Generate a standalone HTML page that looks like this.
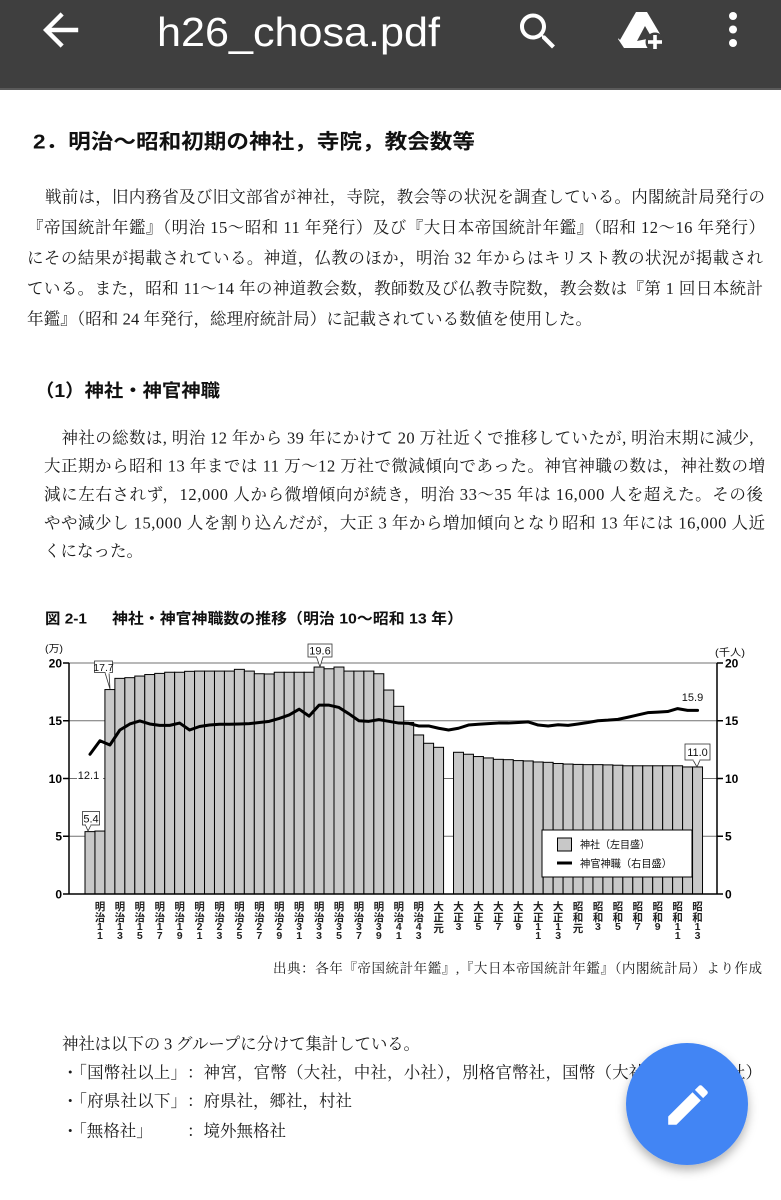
<!DOCTYPE html>
<html><head><meta charset="utf-8">
<style>
html,body{margin:0;padding:0;background:#fff;}
svg{display:block;}
.s{font-family:"Liberation Serif","Noto Serif CJK SC",serif;fill:#1a1a1a;}
.g{font-family:"Liberation Sans","Noto Sans CJK JP",sans-serif;}
.c{font-family:"Liberation Sans","Noto Sans CJK JP",sans-serif;font-size:10.5px;font-weight:bold;text-anchor:middle;fill:#222;}
.n{font-family:"Liberation Sans",sans-serif;font-size:11px;fill:#111;}
.ax{font-family:"Liberation Sans",sans-serif;font-size:12px;font-weight:bold;fill:#000;}
</style></head><body>
<svg width="781" height="1200" viewBox="0 0 781 1200" xmlns="http://www.w3.org/2000/svg">
<defs>
<filter id="sh" x="-30%" y="-30%" width="160%" height="170%"><feDropShadow dx="0" dy="5" stdDeviation="5" flood-color="#000" flood-opacity="0.3"/></filter>
</defs>
<rect width="781" height="1200" fill="#fff"/>

<!-- Header -->
<rect x="0" y="0" width="781" height="88" fill="#3f3f3f"/>
<rect x="0" y="88" width="781" height="2" fill="#5a5a5a"/>
<path transform="translate(34.2,3.6) scale(2.2)" fill="#fff" d="M20 11H7.83l5.59-5.59L12 4l-8 8 8 8 1.41-1.41L7.83 13H20v-2z"/>
<text class="g" x="157" y="46" font-size="41" fill="#fff" textLength="283" lengthAdjust="spacingAndGlyphs">h26_chosa.pdf</text>
<path transform="translate(514,7.5) scale(2.0)" fill="#fff" d="M15.5 14h-.79l-.28-.27C15.41 12.59 16 11.110 16 9.5 16 5.910 13.09 3 9.5 3S3 5.91 3 9.5 5.91 16 9.5 16c1.61 0 3.09-.59 4.23-1.57l.27.28v.79l5 4.99L20.49 19l-4.99-5zm-6 0C7.01 14 5 11.99 5 9.5S7.01 5 9.5 5 14 7.01 14 9.5 11.99 14 9.5 14z"/>
<!-- drive add icon -->
<polygon points="634,12 647,12 663,39 657,48 624,48 618,39" fill="#fff"/>
<polygon points="637,41 645,26 652,38" fill="#3f3f3f"/>
<polygon points="633,12 636,12 620,40 618,38" fill="#3f3f3f"/>
<circle cx="655" cy="42" r="9.5" fill="#3f3f3f"/>
<rect x="653.2" y="35" width="3.6" height="14" fill="#fff"/>
<rect x="648" y="40.2" width="14" height="3.6" fill="#fff"/>
<!-- kebab -->
<circle cx="733" cy="16" r="4" fill="#fff"/>
<circle cx="733" cy="29.5" r="4" fill="#fff"/>
<circle cx="733" cy="43" r="4" fill="#fff"/>

<!-- Section title -->
<text class="g" x="33" y="148.5" font-size="20.5" font-weight="bold" fill="#111" textLength="442" lengthAdjust="spacingAndGlyphs">2．明治〜昭和初期の神社，寺院，教会数等</text>

<!-- Paragraph 1 -->
<g class="s" font-size="16.5">
<text x="45" y="202.3" textLength="720" lengthAdjust="spacing">戦前は，旧内務省及び旧文部省が神社，寺院，教会等の状況を調査している。内閣統計局発行の</text>
<text x="27" y="232.8" textLength="738" lengthAdjust="spacing">『帝国統計年鑑』（明治 15〜昭和 11 年発行）及び『大日本帝国統計年鑑』（昭和 12〜16 年発行）</text>
<text x="27" y="263.3" textLength="736" lengthAdjust="spacing">にその結果が掲載されている。神道，仏教のほか，明治 32 年からはキリスト教の状況が掲載され</text>
<text x="27" y="293.8" textLength="736" lengthAdjust="spacing">ている。また，昭和 11〜14 年の神道教会数，教師数及び仏教寺院数，教会数は『第 1 回日本統計</text>
<text x="27" y="324.3" textLength="565" lengthAdjust="spacing">年鑑』（昭和 24 年発行，総理府統計局）に記載されている数値を使用した。</text>
</g>

<!-- Heading (1) -->
<text class="g" x="35" y="397" font-size="18" font-weight="bold" fill="#111" textLength="185" lengthAdjust="spacingAndGlyphs">（1）神社・神官神職</text>

<!-- Paragraph 2 -->
<g class="s" font-size="16.5">
<text x="61.5" y="443.3" textLength="692" lengthAdjust="spacing">神社の総数は, 明治 12 年から 39 年にかけて 20 万社近くで推移していたが, 明治末期に減少,</text>
<text x="44" y="471.6" textLength="721" lengthAdjust="spacing">大正期から昭和 13 年までは 11 万〜12 万社で微減傾向であった。神官神職の数は，神社数の増</text>
<text x="44" y="500" textLength="719" lengthAdjust="spacing">減に左右されず，12,000 人から微増傾向が続き，明治 33〜35 年は 16,000 人を超えた。その後</text>
<text x="44" y="528.3" textLength="721" lengthAdjust="spacing">やや減少し 15,000 人を割り込んだが，大正 3 年から増加傾向となり昭和 13 年には 16,000 人近</text>
<text x="44" y="556.6">くになった。</text>
</g>

<!-- Chart title -->
<text class="g" x="45" y="623.7" font-size="15" font-weight="bold" fill="#111" textLength="42" lengthAdjust="spacingAndGlyphs">図 2-1</text>
<text class="g" x="112" y="623.7" font-size="15" font-weight="bold" fill="#111" textLength="351" lengthAdjust="spacingAndGlyphs">神社・神官神職数の推移（明治 10〜昭和 13 年）</text>

<!-- Chart -->
<text class="g" x="45" y="652" font-size="10" fill="#111" textLength="18" lengthAdjust="spacingAndGlyphs">(万)</text>
<text class="g" x="715" y="656" font-size="10" fill="#111" textLength="30" lengthAdjust="spacingAndGlyphs">(千人)</text>

<!-- gridlines -->
<g stroke="#707070" stroke-width="1">
<line x1="69" y1="663" x2="717" y2="663"/>
<line x1="69" y1="720.75" x2="717" y2="720.75"/>
<line x1="69" y1="778.5" x2="717" y2="778.5"/>
<line x1="69" y1="836.25" x2="717" y2="836.25"/>
</g>

<!-- bars -->
<g fill="#c8c8c8" stroke="#000" stroke-width="1">
<rect x="85" y="831.63" width="9.96" height="62.37"/>
<rect x="94.96" y="831.05" width="9.96" height="62.95"/>
<rect x="104.92" y="689.56" width="9.96" height="204.44"/>
<rect x="114.88" y="678.36" width="9.96" height="215.64"/>
<rect x="124.84" y="677.67" width="9.96" height="216.33"/>
<rect x="134.8" y="676.05" width="9.96" height="217.95"/>
<rect x="144.76" y="674.55" width="9.96" height="219.45"/>
<rect x="154.72" y="673.39" width="9.96" height="220.61"/>
<rect x="164.68" y="672.24" width="9.96" height="221.76"/>
<rect x="174.64" y="672.24" width="9.96" height="221.76"/>
<rect x="184.6" y="671.32" width="9.96" height="222.68"/>
<rect x="194.56" y="671.08" width="9.96" height="222.92"/>
<rect x="204.52" y="671.08" width="9.96" height="222.92"/>
<rect x="214.48" y="671.08" width="9.96" height="222.92"/>
<rect x="224.44" y="671.08" width="9.96" height="222.92"/>
<rect x="234.4" y="669.35" width="9.96" height="224.65"/>
<rect x="244.36" y="671.08" width="9.96" height="222.92"/>
<rect x="254.32" y="673.74" width="9.96" height="220.26"/>
<rect x="264.28" y="673.97" width="9.96" height="220.03"/>
<rect x="274.24" y="672.24" width="9.96" height="221.76"/>
<rect x="284.2" y="672.24" width="9.96" height="221.76"/>
<rect x="294.16" y="672.24" width="9.96" height="221.76"/>
<rect x="304.12" y="672.24" width="9.96" height="221.76"/>
<rect x="314.08" y="667.04" width="9.96" height="226.96"/>
<rect x="324.04" y="668.77" width="9.96" height="225.23"/>
<rect x="334" y="667.04" width="9.96" height="226.96"/>
<rect x="343.96" y="671.08" width="9.96" height="222.92"/>
<rect x="353.92" y="671.08" width="9.96" height="222.92"/>
<rect x="363.88" y="671.08" width="9.96" height="222.92"/>
<rect x="373.84" y="673.74" width="9.96" height="220.26"/>
<rect x="383.8" y="690.03" width="9.96" height="203.97"/>
<rect x="393.76" y="706.31" width="9.96" height="187.69"/>
<rect x="403.72" y="722.48" width="9.96" height="171.52"/>
<rect x="413.68" y="734.96" width="9.96" height="159.04"/>
<rect x="423.64" y="743.27" width="9.96" height="150.73"/>
<rect x="433.6" y="747.31" width="9.96" height="146.69"/>
<rect x="453.52" y="752.28" width="9.96" height="141.72"/>
<rect x="463.48" y="754.24" width="9.96" height="139.76"/>
<rect x="473.44" y="756.55" width="9.96" height="137.45"/>
<rect x="483.4" y="757.94" width="9.96" height="136.06"/>
<rect x="493.36" y="759.33" width="9.96" height="134.67"/>
<rect x="503.32" y="759.67" width="9.96" height="134.33"/>
<rect x="513.28" y="760.6" width="9.96" height="133.4"/>
<rect x="523.24" y="760.94" width="9.96" height="133.06"/>
<rect x="533.2" y="761.98" width="9.96" height="132.02"/>
<rect x="543.16" y="762.33" width="9.96" height="131.67"/>
<rect x="553.12" y="763.48" width="9.96" height="130.52"/>
<rect x="563.08" y="764.06" width="9.96" height="129.94"/>
<rect x="573.04" y="764.41" width="9.96" height="129.59"/>
<rect x="583" y="764.64" width="9.96" height="129.36"/>
<rect x="592.96" y="764.64" width="9.96" height="129.36"/>
<rect x="602.92" y="764.87" width="9.96" height="129.13"/>
<rect x="612.88" y="765.22" width="9.96" height="128.78"/>
<rect x="622.84" y="765.79" width="9.96" height="128.21"/>
<rect x="632.8" y="765.79" width="9.96" height="128.21"/>
<rect x="642.76" y="765.79" width="9.96" height="128.21"/>
<rect x="652.72" y="765.79" width="9.96" height="128.21"/>
<rect x="662.68" y="765.79" width="9.96" height="128.21"/>
<rect x="672.64" y="765.79" width="9.96" height="128.21"/>
<rect x="682.6" y="766.95" width="9.96" height="127.05"/>
<rect x="692.56" y="766.95" width="9.96" height="127.05"/>
</g>

<!-- axes -->
<g stroke="#000" stroke-width="1.5" fill="none">
<line x1="69" y1="663" x2="69" y2="894"/>
<line x1="717" y1="663" x2="717" y2="894"/>
<line x1="63" y1="894" x2="723" y2="894"/>
<line x1="63" y1="663" x2="69" y2="663"/>
<line x1="63" y1="720.75" x2="69" y2="720.75"/>
<line x1="63" y1="778.5" x2="69" y2="778.5"/>
<line x1="63" y1="836.25" x2="69" y2="836.25"/>
<line x1="717" y1="663" x2="723" y2="663"/>
<line x1="717" y1="720.75" x2="723" y2="720.75"/>
<line x1="717" y1="778.5" x2="723" y2="778.5"/>
<line x1="717" y1="836.25" x2="723" y2="836.25"/>
</g>
<g class="ax" text-anchor="end">
<text x="62" y="667.3">20</text>
<text x="62" y="725">15</text>
<text x="62" y="782.8">10</text>
<text x="62" y="840.5">5</text>
<text x="62" y="898.3">0</text>
</g>
<g class="ax">
<text x="725" y="667.3">20</text>
<text x="725" y="725">15</text>
<text x="725" y="782.8">10</text>
<text x="725" y="840.5">5</text>
<text x="725" y="898.3">0</text>
</g>

<!-- line series -->
<polyline fill="none" stroke="#000" stroke-width="3" stroke-linejoin="round" stroke-linecap="round" points="90,754.24 99.96,740.73 109.92,745 119.88,729.99 129.84,723.98 139.8,720.98 149.76,723.98 159.72,725.37 169.68,725.37 179.64,723.06 189.6,729.99 199.56,726.52 209.52,725.02 219.48,724.21 229.44,724.21 239.4,723.98 249.36,723.64 259.32,722.48 269.28,721.33 279.24,718.44 289.2,714.97 299.16,709.2 309.12,716.13 319.08,705.16 329.04,705.16 339,707.47 348.96,713.82 358.92,720.75 368.88,721.33 378.84,719.59 388.8,721.33 398.76,723.06 408.72,723.41 418.68,725.95 428.64,725.95 438.6,728.26 448.56,729.99 458.52,728.26 468.48,725.02 478.44,724.21 488.4,723.64 498.36,723.06 508.32,723.06 518.28,722.48 528.24,721.9 538.2,725.02 548.16,725.95 558.12,724.79 568.08,725.37 578.04,723.98 588,722.48 597.96,720.75 607.92,720.17 617.88,719.36 627.84,717.28 637.8,714.97 647.76,712.66 657.72,712.09 667.68,711.51 677.64,708.62 687.6,710.35 697.56,710.35"/>

<!-- data labels -->
<g fill="#fff" stroke="#333" stroke-width="0.8">
<path d="M105,672.5 L110,689 L109,672.5"/>
<rect x="94.5" y="661" width="18" height="11.5"/>
<path d="M316.5,657 L320,667 L323,657"/>
<rect x="308" y="644" width="24" height="13"/>
<path d="M85.5,825 L88,831 L91,825"/>
<rect x="82.5" y="811.5" width="17" height="13.5"/>
<path d="M693,760 L697,767 L700,760"/>
<rect x="685" y="744" width="25" height="16"/>
</g>
<g fill="#fff" stroke="none">
<rect x="105.5" y="671.5" width="4" height="2"/>
<rect x="317" y="656" width="5.5" height="2"/>
<rect x="86" y="824" width="4.5" height="2"/>
<rect x="693.5" y="759" width="6" height="2"/>
<rect x="77" y="769.5" width="26" height="11"/>
</g>
<g class="n" text-anchor="middle">
<text x="103.5" y="670.8" font-size="10.5">17.7</text>
<text x="320" y="654.5">19.6</text>
<text x="91" y="822.3">5.4</text>
<text x="697.5" y="756">11.0</text>
<text x="88.5" y="779">12.1</text>
<text x="692.5" y="701">15.9</text>
</g>

<!-- legend -->
<rect x="542" y="830" width="150" height="47" fill="#fff" stroke="#000" stroke-width="1"/>
<rect x="557.5" y="838" width="14" height="13" fill="#c8c8c8" stroke="#000" stroke-width="1"/>
<line x1="557" y1="863" x2="572" y2="863" stroke="#000" stroke-width="3"/>
<text class="g" x="580" y="848" font-size="10.5" fill="#111" textLength="70" lengthAdjust="spacingAndGlyphs">神社（左目盛）</text>
<text class="g" x="580" y="867" font-size="10.5" fill="#111" textLength="92" lengthAdjust="spacingAndGlyphs">神官神職（右目盛）</text>

<!-- category labels -->
<g transform="translate(99.96,0)"><text class="c"><tspan x="0" y="910">明</tspan><tspan x="0" y="921">治</tspan><tspan x="0" y="930">1</tspan><tspan x="0" y="939">1</tspan></text></g>
<g transform="translate(119.88,0)"><text class="c"><tspan x="0" y="910">明</tspan><tspan x="0" y="921">治</tspan><tspan x="0" y="930">1</tspan><tspan x="0" y="939">3</tspan></text></g>
<g transform="translate(139.8,0)"><text class="c"><tspan x="0" y="910">明</tspan><tspan x="0" y="921">治</tspan><tspan x="0" y="930">1</tspan><tspan x="0" y="939">5</tspan></text></g>
<g transform="translate(159.72,0)"><text class="c"><tspan x="0" y="910">明</tspan><tspan x="0" y="921">治</tspan><tspan x="0" y="930">1</tspan><tspan x="0" y="939">7</tspan></text></g>
<g transform="translate(179.64,0)"><text class="c"><tspan x="0" y="910">明</tspan><tspan x="0" y="921">治</tspan><tspan x="0" y="930">1</tspan><tspan x="0" y="939">9</tspan></text></g>
<g transform="translate(199.56,0)"><text class="c"><tspan x="0" y="910">明</tspan><tspan x="0" y="921">治</tspan><tspan x="0" y="930">2</tspan><tspan x="0" y="939">1</tspan></text></g>
<g transform="translate(219.48,0)"><text class="c"><tspan x="0" y="910">明</tspan><tspan x="0" y="921">治</tspan><tspan x="0" y="930">2</tspan><tspan x="0" y="939">3</tspan></text></g>
<g transform="translate(239.4,0)"><text class="c"><tspan x="0" y="910">明</tspan><tspan x="0" y="921">治</tspan><tspan x="0" y="930">2</tspan><tspan x="0" y="939">5</tspan></text></g>
<g transform="translate(259.32,0)"><text class="c"><tspan x="0" y="910">明</tspan><tspan x="0" y="921">治</tspan><tspan x="0" y="930">2</tspan><tspan x="0" y="939">7</tspan></text></g>
<g transform="translate(279.24,0)"><text class="c"><tspan x="0" y="910">明</tspan><tspan x="0" y="921">治</tspan><tspan x="0" y="930">2</tspan><tspan x="0" y="939">9</tspan></text></g>
<g transform="translate(299.16,0)"><text class="c"><tspan x="0" y="910">明</tspan><tspan x="0" y="921">治</tspan><tspan x="0" y="930">3</tspan><tspan x="0" y="939">1</tspan></text></g>
<g transform="translate(319.08,0)"><text class="c"><tspan x="0" y="910">明</tspan><tspan x="0" y="921">治</tspan><tspan x="0" y="930">3</tspan><tspan x="0" y="939">3</tspan></text></g>
<g transform="translate(339,0)"><text class="c"><tspan x="0" y="910">明</tspan><tspan x="0" y="921">治</tspan><tspan x="0" y="930">3</tspan><tspan x="0" y="939">5</tspan></text></g>
<g transform="translate(358.92,0)"><text class="c"><tspan x="0" y="910">明</tspan><tspan x="0" y="921">治</tspan><tspan x="0" y="930">3</tspan><tspan x="0" y="939">7</tspan></text></g>
<g transform="translate(378.84,0)"><text class="c"><tspan x="0" y="910">明</tspan><tspan x="0" y="921">治</tspan><tspan x="0" y="930">3</tspan><tspan x="0" y="939">9</tspan></text></g>
<g transform="translate(398.76,0)"><text class="c"><tspan x="0" y="910">明</tspan><tspan x="0" y="921">治</tspan><tspan x="0" y="930">4</tspan><tspan x="0" y="939">1</tspan></text></g>
<g transform="translate(418.68,0)"><text class="c"><tspan x="0" y="910">明</tspan><tspan x="0" y="921">治</tspan><tspan x="0" y="930">4</tspan><tspan x="0" y="939">3</tspan></text></g>
<g transform="translate(438.6,0)"><text class="c"><tspan x="0" y="910">大</tspan><tspan x="0" y="921">正</tspan><tspan x="0" y="932">元</tspan></text></g>
<g transform="translate(458.52,0)"><text class="c"><tspan x="0" y="910">大</tspan><tspan x="0" y="921">正</tspan><tspan x="0" y="930">3</tspan></text></g>
<g transform="translate(478.44,0)"><text class="c"><tspan x="0" y="910">大</tspan><tspan x="0" y="921">正</tspan><tspan x="0" y="930">5</tspan></text></g>
<g transform="translate(498.36,0)"><text class="c"><tspan x="0" y="910">大</tspan><tspan x="0" y="921">正</tspan><tspan x="0" y="930">7</tspan></text></g>
<g transform="translate(518.28,0)"><text class="c"><tspan x="0" y="910">大</tspan><tspan x="0" y="921">正</tspan><tspan x="0" y="930">9</tspan></text></g>
<g transform="translate(538.2,0)"><text class="c"><tspan x="0" y="910">大</tspan><tspan x="0" y="921">正</tspan><tspan x="0" y="930">1</tspan><tspan x="0" y="939">1</tspan></text></g>
<g transform="translate(558.12,0)"><text class="c"><tspan x="0" y="910">大</tspan><tspan x="0" y="921">正</tspan><tspan x="0" y="930">1</tspan><tspan x="0" y="939">3</tspan></text></g>
<g transform="translate(578.04,0)"><text class="c"><tspan x="0" y="910">昭</tspan><tspan x="0" y="921">和</tspan><tspan x="0" y="932">元</tspan></text></g>
<g transform="translate(597.96,0)"><text class="c"><tspan x="0" y="910">昭</tspan><tspan x="0" y="921">和</tspan><tspan x="0" y="930">3</tspan></text></g>
<g transform="translate(617.88,0)"><text class="c"><tspan x="0" y="910">昭</tspan><tspan x="0" y="921">和</tspan><tspan x="0" y="930">5</tspan></text></g>
<g transform="translate(637.8,0)"><text class="c"><tspan x="0" y="910">昭</tspan><tspan x="0" y="921">和</tspan><tspan x="0" y="930">7</tspan></text></g>
<g transform="translate(657.72,0)"><text class="c"><tspan x="0" y="910">昭</tspan><tspan x="0" y="921">和</tspan><tspan x="0" y="930">9</tspan></text></g>
<g transform="translate(677.64,0)"><text class="c"><tspan x="0" y="910">昭</tspan><tspan x="0" y="921">和</tspan><tspan x="0" y="930">1</tspan><tspan x="0" y="939">1</tspan></text></g>
<g transform="translate(697.56,0)"><text class="c"><tspan x="0" y="910">昭</tspan><tspan x="0" y="921">和</tspan><tspan x="0" y="930">1</tspan><tspan x="0" y="939">3</tspan></text></g>

<!-- source -->
<text class="s" x="273" y="973" font-size="13.5" textLength="489" lengthAdjust="spacing">出典：各年『帝国統計年鑑』,『大日本帝国統計年鑑』（内閣統計局）より作成</text>

<!-- bottom text -->
<g class="s" font-size="16.5">
<text x="62" y="1049.3" textLength="358" lengthAdjust="spacing">神社は以下の 3 グループに分けて集計している。</text>
<text x="62" y="1077.8" textLength="125" lengthAdjust="spacing">・「国幣社以上」</text>
<text x="187" y="1077.8" textLength="575" lengthAdjust="spacing">：神宮，官幣（大社，中社，小社），別格官幣社，国幣（大社，中社，小社）</text>
<text x="62" y="1106.3" textLength="125" lengthAdjust="spacing">・「府県社以下」</text>
<text x="187" y="1106.3">：府県社，郷社，村社</text>
<text x="62" y="1136.3">・「無格社」</text>
<text x="187" y="1136.3">：境外無格社</text>
</g>

<!-- FAB -->
<circle cx="687" cy="1104" r="61" fill="#4285f4" filter="url(#sh)"/>
<path transform="translate(661.6,1078.6) scale(2.2)" fill="#fff" d="M3 17.25V21h3.75L17.81 9.94l-3.75-3.75L3 17.25zM20.71 7.04c.39-.39.39-1.02 0-1.41l-2.34-2.34c-.39-.39-1.02-.39-1.41 0l-1.83 1.830 3.75 3.75 1.83-1.83z"/>
</svg>
</body></html>
